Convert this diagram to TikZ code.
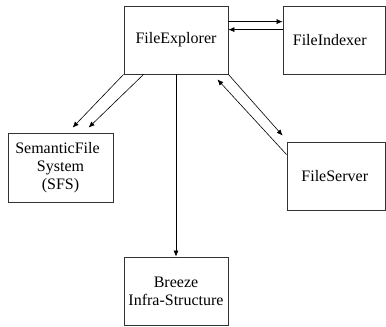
\documentclass[tikz,border=0pt]{standalone}
\usepackage{fontspec}
\setmainfont{Liberation Serif}
\usetikzlibrary{arrows.meta,calc}
\begin{document}
\begin{tikzpicture}[x=1pt,y=-1pt,
  box/.style={draw=black!80,line width=0.8pt,inner sep=0pt,align=center,
    font=\fontsize{16}{18}\selectfont},
  conn/.style={line width=0.6pt,-{Latex[length=6pt,width=5pt]}}]
\useasboundingbox (0,0) rectangle (386,327);
\node[box,minimum width=104pt,minimum height=68pt] (fe) at (176,40) {FileExplorer};
\node[box,minimum width=102.5pt,minimum height=68pt] (fi) at (334.25,40) {\hspace*{-9pt}FileIndexer};
\node[box,minimum width=105pt,minimum height=69pt] (sfs) at (60.5,167.5) {\hspace*{-6pt}SemanticFile\\System\\(SFS)};
\node[box,minimum width=98.5pt,minimum height=68pt] (fs) at (336.25,176) {\hspace*{-3pt}FileServer};
\node[box,minimum width=104pt,minimum height=68pt] (bz) at (176,291) {Breeze\\Infra-Structure};
\draw[conn] ([yshift=-16pt]fe.north east) -- ([yshift=-16pt]fi.north west);
\draw[conn] ([yshift=-24pt]fi.north west) -- ([yshift=-24pt]fe.north east);
\draw[conn] (fe.south west) -- ([xshift=65pt,yshift=5pt]sfs.north west);
\draw[conn] ([xshift=20pt]fe.south west) -- ([xshift=81pt,yshift=5pt]sfs.north west);
\draw[conn] (fe.south) -- (bz.north);
\draw[conn] (fe.south east) -- ([xshift=-4pt,yshift=6pt]fs.north west);
\draw[conn] ([yshift=-13pt]fs.north west) -- ([xshift=-11pt,yshift=-5pt]fe.south east);
\end{tikzpicture}
\end{document}
